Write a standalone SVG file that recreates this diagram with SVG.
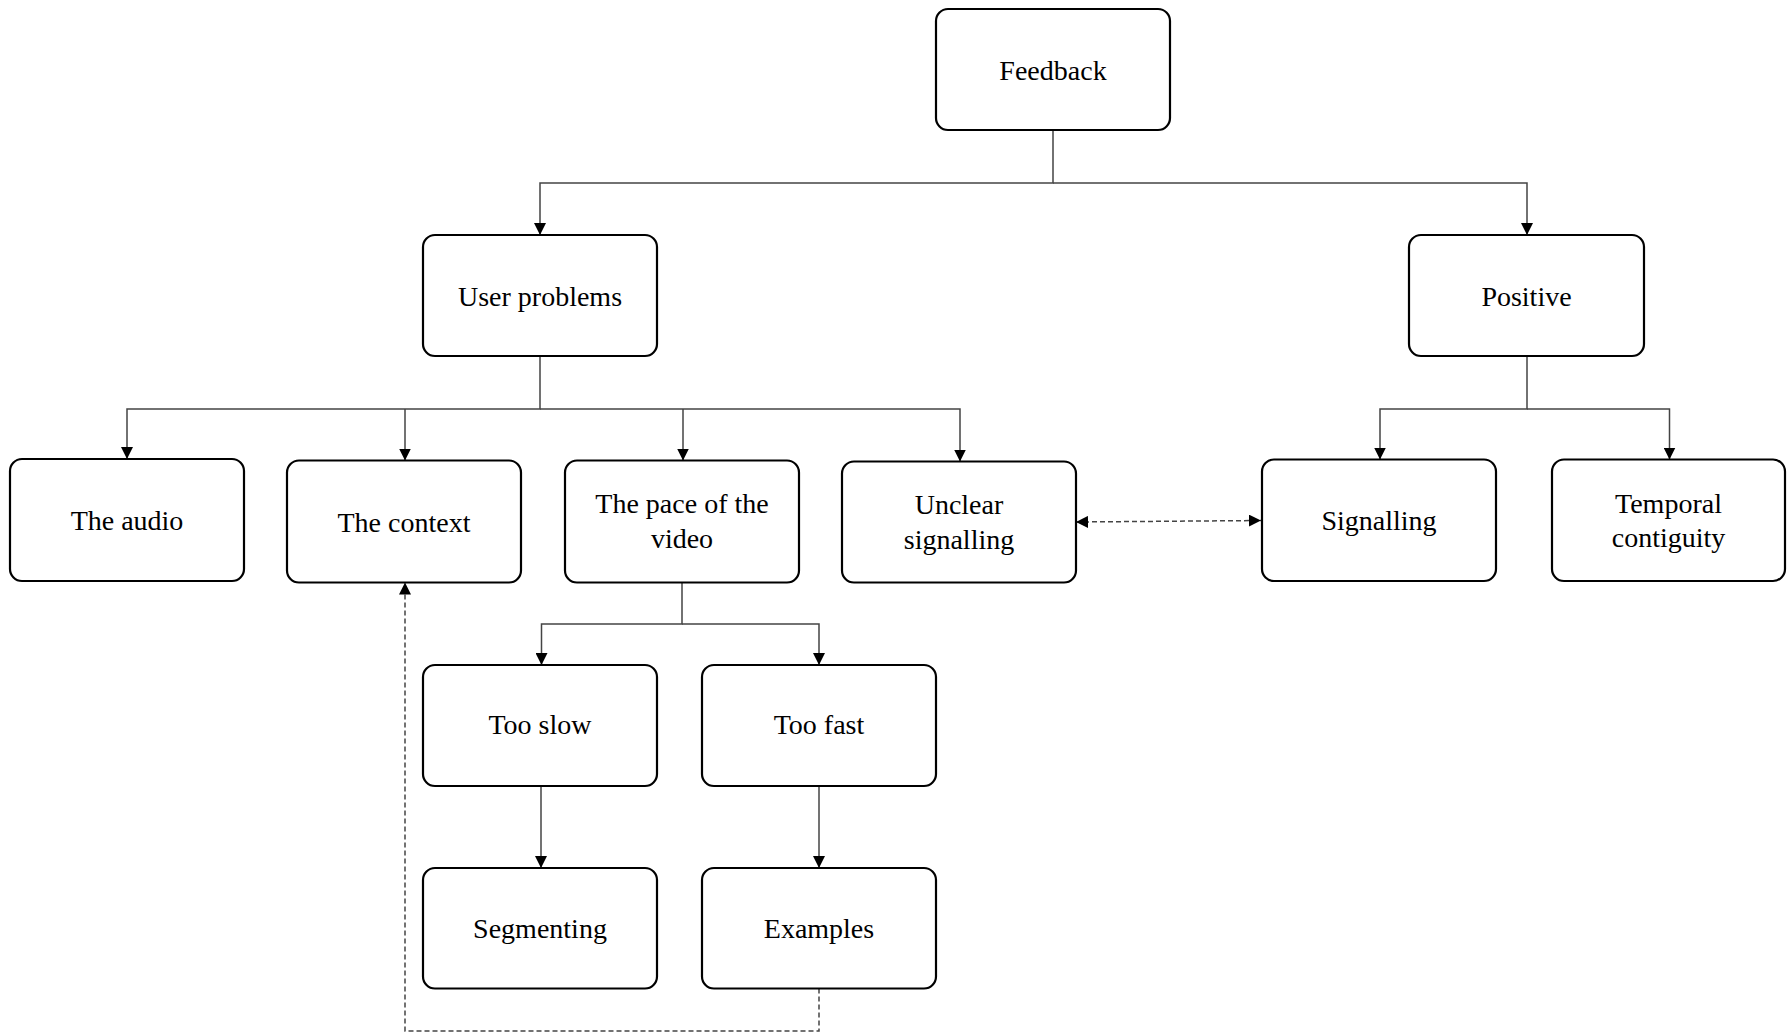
<svg xmlns="http://www.w3.org/2000/svg" width="1787" height="1034" viewBox="0 0 1787 1034">
<style>
.box{fill:#fff;stroke:#000;stroke-width:2.2}
.lbl{font-family:"Liberation Serif","Times New Roman",serif;font-size:28px;fill:#000;text-anchor:middle}
.con{fill:none;stroke:#444;stroke-width:1.5}
.dash{fill:none;stroke:#444;stroke-width:1.5;stroke-dasharray:5 3}
</style>
<defs>
<marker id="arr" viewBox="0 0 12 12" markerWidth="12" markerHeight="12" refX="12" refY="6" orient="auto-start-reverse" markerUnits="userSpaceOnUse">
<path d="M0,0 L12,6 L0,12 Z" fill="#000"/>
</marker>
</defs>
<rect width="1787" height="1034" fill="#fff"/>
<g id="connectors">
<path class="con" d="M1053,130 V183 H540 V235" marker-end="url(#arr)"/>
<path class="con" d="M1053,183 H1527 V235" marker-end="url(#arr)"/>
<path class="con" d="M540,356 V409 H127 V459" marker-end="url(#arr)"/>
<path class="con" d="M405,409 V460.5" marker-end="url(#arr)"/>
<path class="con" d="M683,409 V460.5" marker-end="url(#arr)"/>
<path class="con" d="M540,409 H960 V461.5" marker-end="url(#arr)"/>
<path class="con" d="M1527,356 V409 H1380 V459.5" marker-end="url(#arr)"/>
<path class="con" d="M1527,409 H1669.5 V459.5" marker-end="url(#arr)"/>
<path class="con" d="M682,582 V624 H541.5 V665" marker-end="url(#arr)"/>
<path class="con" d="M682,624 H819 V665" marker-end="url(#arr)"/>
<path class="con" d="M541,786 V868" marker-end="url(#arr)"/>
<path class="con" d="M819,786 V868" marker-end="url(#arr)"/>
<path class="dash" d="M819,988.5 V1031 H405 V582.5" marker-end="url(#arr)"/>
<path class="dash" d="M1076,522 L1261,520.5" marker-start="url(#arr)" marker-end="url(#arr)"/>
</g>
<g id="feedback"><rect class="box" x="936" y="9" width="234" height="121" rx="12"/><text class="lbl" x="1053" y="80">Feedback</text></g>
<g id="user-problems"><rect class="box" x="423" y="235" width="234" height="121" rx="12"/><text class="lbl" x="540" y="306">User problems</text></g>
<g id="positive"><rect class="box" x="1409" y="235" width="235" height="121" rx="12"/><text class="lbl" x="1526.5" y="306">Positive</text></g>
<g id="the-audio"><rect class="box" x="10" y="459" width="234" height="122" rx="12"/><text class="lbl" x="127" y="530">The audio</text></g>
<g id="the-context"><rect class="box" x="287" y="460.5" width="234" height="122" rx="12"/><text class="lbl" x="404" y="532">The context</text></g>
<g id="pace"><rect class="box" x="565" y="460.5" width="234" height="122" rx="12"/><text class="lbl" x="682" y="513">The pace of the</text><text class="lbl" x="682" y="548">video</text></g>
<g id="unclear"><rect class="box" x="842" y="461.5" width="234" height="121" rx="12"/><text class="lbl" x="959" y="514">Unclear</text><text class="lbl" x="959" y="549">signalling</text></g>
<g id="signalling"><rect class="box" x="1262" y="459.5" width="234" height="121.5" rx="12"/><text class="lbl" x="1379" y="530">Signalling</text></g>
<g id="temporal"><rect class="box" x="1552" y="459.5" width="233" height="121.5" rx="12"/><text class="lbl" x="1668.5" y="513">Temporal</text><text class="lbl" x="1668.5" y="547">contiguity</text></g>
<g id="too-slow"><rect class="box" x="423" y="665" width="234" height="121" rx="12"/><text class="lbl" x="540" y="734">Too slow</text></g>
<g id="too-fast"><rect class="box" x="702" y="665" width="234" height="121" rx="12"/><text class="lbl" x="819" y="734">Too fast</text></g>
<g id="segmenting"><rect class="box" x="423" y="868" width="234" height="120.5" rx="12"/><text class="lbl" x="540" y="938">Segmenting</text></g>
<g id="examples"><rect class="box" x="702" y="868" width="234" height="120.5" rx="12"/><text class="lbl" x="819" y="938">Examples</text></g>
</svg>
